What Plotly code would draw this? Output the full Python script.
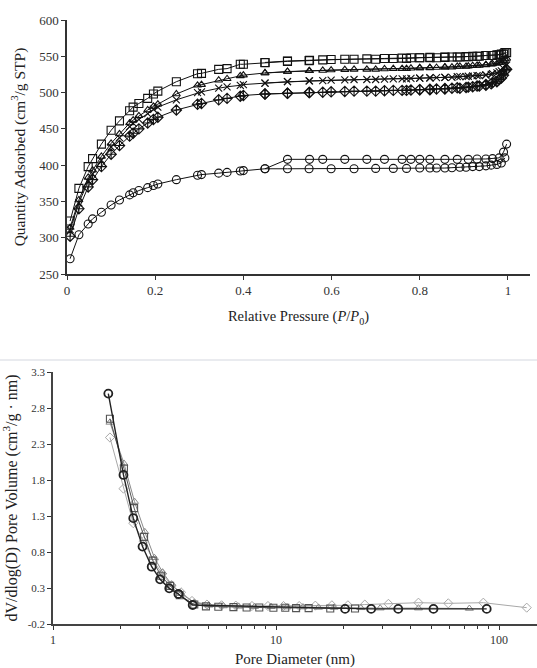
import plotly.graph_objects as go

# ---------------- Top panel: N2 isotherms ----------------
p_ads = [0.007, 0.027, 0.048, 0.058, 0.078, 0.10, 0.119, 0.142, 0.15, 0.163, 0.183, 0.196, 0.206,
         0.248, 0.296, 0.305, 0.344, 0.363, 0.393, 0.40, 0.449, 0.50, 0.549, 0.599, 0.651, 0.70,
         0.74, 0.77, 0.80, 0.823, 0.838, 0.857, 0.873, 0.891, 0.905, 0.92, 0.935, 0.95, 0.962,
         0.975, 0.985, 0.993]
p_des = [0.997, 0.99, 0.98, 0.965, 0.95, 0.93, 0.91, 0.885, 0.857, 0.823, 0.80, 0.78, 0.76,
         0.72, 0.68, 0.63, 0.58, 0.55, 0.50, 0.449]

square_ads = [323, 368, 398, 409, 429, 448, 461, 475, 480, 485, 492, 498, 502, 515, 526, 526.5, 532,
              533, 539, 539, 541, 543, 544, 545.5, 546, 546, 547, 547, 548, 548, 548, 548.5, 549,
              549, 549.5, 550, 550, 551, 551, 552, 553, 555]
square_des = [555, 553, 552, 551, 551, 550, 549.5, 549, 549, 548.5, 548, 548, 547.5, 547, 546.5,
              546, 545, 544.5, 543.5, 541.5]
triangle_ads = [314, 352, 383, 393, 412, 430, 443, 458, 462, 468, 476, 481, 484, 498, 510, 511, 517,
                519, 523, 524, 527, 529, 530, 531, 532, 532, 533, 533, 534, 534, 534.5, 535, 535,
                536, 536, 537, 537.5, 538, 539, 540, 542, 546]
triangle_des = [547, 544, 541, 539.5, 538.5, 537.5, 536.5, 536, 535, 534.5, 534, 533.5, 533, 532.5,
                532, 531.5, 530.5, 530, 529, 527]
cross_ads = [311, 348, 378, 388, 407, 425, 438, 453, 458, 463, 471, 477, 480, 490, 500, 501, 506,
             508, 510, 511, 513, 515, 516, 517, 518, 518, 519, 519, 520, 520, 520.5, 521, 521, 522,
             522, 523, 523.5, 524, 525, 527, 530, 537]
cross_des = [538, 533, 529, 526, 524.5, 523.5, 522.5, 522, 521, 520.5, 520, 519.5, 519, 518.5, 518,
             517.5, 516.5, 516, 515, 513]
diamond_ads = [302, 340, 370, 380, 398, 415, 427, 440, 444, 450, 458, 463, 466, 476, 484, 485, 490,
               492, 495, 496, 498, 499, 500, 501, 502, 502, 503, 503, 504, 504, 505, 505, 506, 506,
               507, 508, 509, 510, 512, 515, 520, 530]
diamond_des = [532, 524, 518, 514, 511, 509, 507.5, 506.5, 505.5, 504.5, 504, 503.5, 503, 502.5,
               502, 501.5, 500.5, 500, 499, 498]
circle_ads = [271, 304, 319, 326, 335, 345, 352, 359, 362, 365, 369, 372, 374, 380, 386, 387, 389,
              390, 392, 392.5, 395, 395, 395, 395, 395, 395.5, 395.5, 395.5, 396, 396, 396, 396,
              396.5, 397, 397, 398, 398, 399, 400, 401, 403, 410]
circle_des = [429, 418, 410, 409, 408.5, 408.5, 408, 408, 408, 408, 408, 408, 408, 408, 408, 408,
              408, 408, 408, 395]

# ---------------- Bottom panel: pore size distribution ----------------
circ_d = [1.77, 2.07, 2.29, 2.52, 2.77, 3.02, 3.32, 3.65, 4.23, 20.4, 26.7, 35.3, 50.8, 88]
circ_v = [3.0, 1.87, 1.27, 0.875, 0.596, 0.42, 0.295, 0.217, 0.064, 0.01, 0.01, 0.01, 0.01, 0.01]
sq_d = [1.8, 2.08, 2.31, 2.56, 2.8, 3.05, 3.35, 3.7, 4.3, 4.85, 5.51, 6.44, 7.38, 8.41, 9.73, 11.0,
        12.3, 14.0, 17.5, 22.6]
sq_v = [2.65, 1.96, 1.41, 1.01, 0.68, 0.47, 0.33, 0.2, 0.07, 0.045, 0.04, 0.035, 0.03, 0.03, 0.025,
        0.025, 0.02, 0.02, 0.015, 0.015]
tri_d = [1.8, 2.08, 2.32, 2.58, 2.85, 3.1, 3.4, 3.75, 4.3, 5.0, 5.8, 6.8, 8.0, 9.5, 11.2, 13.2, 15.5,
         18.2, 24.0, 29.3, 43.5, 73.6]
tri_v = [2.6, 2.03, 1.5, 1.08, 0.72, 0.52, 0.35, 0.22, 0.1, 0.06, 0.05, 0.045, 0.04, 0.04, 0.035,
         0.035, 0.03, 0.03, 0.025, 0.02, 0.02, 0.015]
dia_d = [1.8, 2.07, 2.29, 2.55, 2.82, 3.08, 3.4, 3.75, 4.2, 4.9, 5.7, 6.6, 7.8, 9.2, 10.8, 12.7, 15.0,
         17.8, 21.0, 25.0, 31.9, 43.5, 59.2, 85, 133]
dia_v = [2.39, 1.68, 1.2, 0.95, 0.68, 0.5, 0.34, 0.24, 0.12, 0.07, 0.06, 0.055, 0.05, 0.05, 0.05,
         0.05, 0.055, 0.06, 0.06, 0.07, 0.08, 0.096, 0.087, 0.096, 0.027]

FONT = "Liberation Serif"
fig = go.Figure()

def iso(x, y, sym, size):
    fig.add_trace(go.Scatter(
        x=x, y=y, mode="lines+markers", xaxis="x", yaxis="y",
        line=dict(color="#111111", width=1),
        marker=dict(symbol=sym, size=size, color="#111111",
                    line=dict(color="#111111", width=1.1)),
        showlegend=False))

for a, d, s, sz in [(circle_ads, circle_des, "circle-open", 8),
                    (diamond_ads, diamond_des, "diamond-cross-open", 8),
                    (cross_ads, cross_des, "x-thin-open", 7),
                    (triangle_ads, triangle_des, "triangle-up-open", 7),
                    (square_ads, square_des, "square-open", 8)]:
    iso(p_ads, a, s, sz)
    iso(p_des, d, s, sz)

def psd(x, y, sym, color, lw, mw, size=7):
    fig.add_trace(go.Scatter(
        x=x, y=y, mode="lines+markers", xaxis="x2", yaxis="y2",
        line=dict(color=color, width=lw),
        marker=dict(symbol=sym, size=size, color=color,
                    line=dict(color=color, width=mw)),
        showlegend=False))

psd(dia_d, dia_v, "diamond-open", "#a8a8a8", 1, 1)
psd(tri_d, tri_v, "triangle-up-open", "#8a8a8a", 1, 1)
psd(sq_d, sq_v, "square-open", "#555555", 1, 1.1)
psd(circ_d, circ_v, "circle-open", "#222222", 1.4, 1.8, 8)

tickfont = dict(family=FONT, size=13, color="#333333")
W, H = 537, 668

fig.update_layout(
    width=W, height=H,
    margin=dict(l=0, r=0, t=0, b=0),
    paper_bgcolor="white", plot_bgcolor="white",
    font=dict(family=FONT),
    xaxis=dict(domain=[67 / W, 530 / W], anchor="y", range=[0, 1.05], automargin=False,
               tickvals=[0, 0.2, 0.4, 0.6, 0.8, 1], ticktext=["0", "0.2", "0.4", "0.6", "0.8", "1"],
               ticks="outside", ticklen=4, tickcolor="#333", showline=True, linecolor="#333",
               linewidth=1.5, showgrid=False, zeroline=False, tickfont=tickfont,
               title=dict(text="Relative Pressure (<i>P</i>/<i>P</i><sub>0</sub>)",
                          font=dict(family=FONT, size=14.5, color="#222"), standoff=14)),
    yaxis=dict(domain=[1 - 274 / H, 1 - 20 / H], anchor="x", range=[250, 600], dtick=50,
               automargin=False,
               ticks="outside", ticklen=4, tickcolor="#333", showline=True, linecolor="#333",
               linewidth=1.5, showgrid=False, zeroline=False, tickfont=tickfont,
               title=dict(text="Quantity Adsorbed (cm<sup>3</sup>/g STP)",
                          font=dict(family=FONT, size=15.5, color="#222"), standoff=10)),
    xaxis2=dict(domain=[53 / W, 1.0], anchor="y2", type="log", range=[0, 2.17], automargin=False,
                tickvals=[1, 10, 100], ticktext=["1", "10", "100"],
                ticks="outside", ticklen=4, tickcolor="#333",
                minor=dict(ticks="outside", ticklen=3, tickcolor="#333",
                           tickvals=[2, 3, 4, 5, 6, 7, 8, 9, 20, 30, 40, 50, 60, 70, 80, 90]),
                showline=True, linecolor="#444", linewidth=1.8, showgrid=False, zeroline=False,
                tickfont=dict(family=FONT, size=12, color="#333333"),
                title=dict(text="Pore Diameter (nm)",
                           font=dict(family=FONT, size=15, color="#222"), standoff=8)),
    yaxis2=dict(domain=[1 - 624 / H, 1 - 372 / H], anchor="x2", range=[-0.2, 3.3],
                automargin=False,
                tickvals=[-0.2, 0.3, 0.8, 1.3, 1.8, 2.3, 2.8, 3.3],
                ticktext=["-0.2", "0.3", "0.8", "1.3", "1.8", "2.3", "2.8", "3.3"],
                ticks="outside", ticklen=4, tickcolor="#333", showline=True, linecolor="#444",
                linewidth=1.5, showgrid=False, zeroline=False,
                tickfont=dict(family=FONT, size=11, color="#333333"),
                title=dict(text="dV/dlog(D) Pore Volume (cm<sup>3</sup>/g · nm)",
                           font=dict(family=FONT, size=16, color="#222"), standoff=8)),
    shapes=[dict(type="line", xref="paper", yref="paper", x0=0, x1=1,
                 y0=1 - 360 / H, y1=1 - 360 / H, line=dict(color="#d4d7df", width=1))],
)

fig.write_html("out.html", config={"displayModeBar": False},
               post_script="document.body.style.margin='0';")
